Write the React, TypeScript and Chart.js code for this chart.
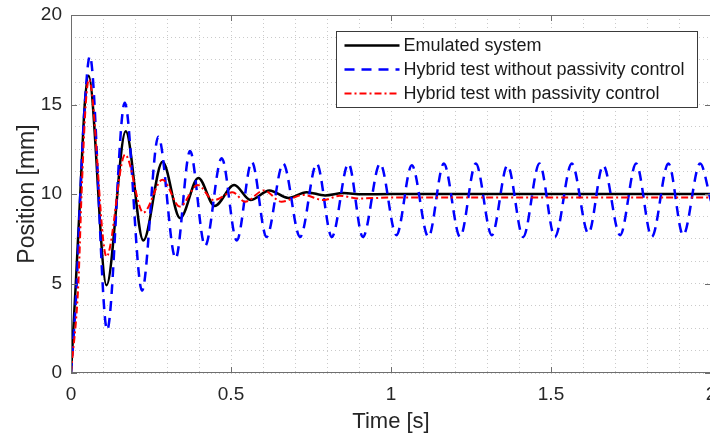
import React, { useEffect, useRef } from 'react';
import { Chart, registerables } from 'chart.js';

Chart.register(...registerables);

// ---- Data ----
const seriesLabels = [
  'Emulated system',
  'Hybrid test without passivity control',
  'Hybrid test with passivity control',
];

// Emulated system (black solid)
const emulatedTime = [0, 0.015, 0.029, 0.043, 0.055, 0.111, 0.171, 0.226, 0.286, 0.341, 0.398, 0.449, 0.51, 0.561, 0.62, 0.679, 0.736, 0.794, 0.851, 0.91, 1.0, 1.5, 2.0];
const emulatedPos = [0, 5, 10, 15, 16.6, 4.9, 13.5, 7.4, 11.8, 8.65, 10.9, 9.33, 10.5, 9.66, 10.2, 9.78, 10.1, 9.92, 10.05, 9.98, 10.0, 10.0, 10.0];

// Hybrid test without passivity control (blue dashed)
const noPassTime = [0, 0.018, 0.029, 0.043, 0.059, 0.113, 0.168, 0.222, 0.273, 0.327, 0.372, 0.419, 0.471, 0.518, 0.565, 0.611, 0.663, 0.716, 0.768, 0.815, 0.867, 0.912, 0.966, 1.017, 1.065, 1.117, 1.165, 1.216, 1.265, 1.315, 1.364, 1.413, 1.464, 1.512, 1.565, 1.617, 1.663, 1.716, 1.766, 1.815, 1.867, 1.913, 1.966, 2.0];
const noPassPos = [0, 5, 10, 15, 17.7, 2.4, 15.1, 4.6, 13.2, 6.4, 12.4, 7.1, 12.0, 7.4, 11.8, 7.6, 11.7, 7.6, 11.7, 7.6, 11.7, 7.6, 11.7, 7.7, 11.6, 7.6, 11.7, 7.6, 11.7, 7.7, 11.6, 7.6, 11.7, 7.6, 11.7, 7.8, 11.6, 7.7, 11.7, 7.6, 11.7, 7.7, 11.7, 9.6];

// Hybrid test with passivity control (red dash-dot)
const withPassTime = [0, 0.023, 0.033, 0.046, 0.056, 0.111, 0.169, 0.226, 0.286, 0.34, 0.396, 0.446, 0.505, 0.544, 0.603, 0.658, 0.726, 0.789, 0.84, 0.9, 1.0, 1.5, 2.0];
const withPassPos = [0, 5, 10, 15, 16.4, 6.5, 12.2, 8.96, 10.8, 9.3, 10.5, 9.66, 10.1, 9.57, 10.2, 9.57, 9.95, 9.66, 9.9, 9.75, 9.8, 9.8, 9.8];

const xMajor = [0, 0.5, 1, 1.5, 2];
const xTickLabels = ['0', '0.5', '1', '1.5', '2'];
const yMajor = [0, 5, 10, 15, 20];
const yTickLabels = ['0', '5', '10', '15', '20'];

const FONT = "'Liberation Sans', Arial, Helvetica, sans-serif";
const seriesColors = ['#000000', '#0000ff', '#ff0000'];
const seriesDash: number[][] = [[], [10, 7], [7, 3, 2, 3]];
const seriesWidth = [2.5, 2.5, 2];

const toPoints = (t: number[], y: number[]) => t.map((x, i) => ({ x, y: y[i] }));

const labelFor = (v: number, majors: number[], labels: string[]) => {
  for (let i = 0; i < majors.length; i++) {
    if (Math.abs(v - majors[i]) < 1e-6) return labels[i];
  }
  return '';
};

const framePlugin = {
  id: 'matlabFrame',
  afterDraw(chart: any) {
    const { ctx, chartArea: a, scales } = chart;
    ctx.save();
    // axes box
    ctx.strokeStyle = '#6e6e6e';
    ctx.lineWidth = 1;
    ctx.setLineDash([]);
    ctx.strokeRect(a.left + 0.5, a.top + 0.5, a.right - a.left - 1, a.bottom - a.top - 1);
    // inward tick marks
    ctx.beginPath();
    for (const v of xMajor) {
      const x = Math.round(scales.x.getPixelForValue(v)) + 0.5;
      ctx.moveTo(x, a.bottom);
      ctx.lineTo(x, a.bottom - 6);
      ctx.moveTo(x, a.top);
      ctx.lineTo(x, a.top + 6);
    }
    for (const v of yMajor) {
      const y = Math.round(scales.y.getPixelForValue(v)) + 0.5;
      ctx.moveTo(a.left, y);
      ctx.lineTo(a.left + 6, y);
      ctx.moveTo(a.right, y);
      ctx.lineTo(a.right - 6, y);
    }
    ctx.stroke();

    // legend box (MATLAB style, inside the axes, north-east)
    const bx = a.right - 374.5;
    const by = a.top + 16.5;
    const bw = 361;
    const bh = 76;
    ctx.fillStyle = '#ffffff';
    ctx.fillRect(bx, by, bw, bh);
    ctx.strokeStyle = '#3a3a3a';
    ctx.lineWidth = 1;
    ctx.strokeRect(bx, by, bw, bh);
    ctx.font = `18px ${FONT}`;
    ctx.textBaseline = 'middle';
    ctx.textAlign = 'left';
    chart.data.datasets.forEach((ds: any, i: number) => {
      const y = by + [14, 38, 62][i];
      ctx.beginPath();
      ctx.strokeStyle = seriesColors[i];
      ctx.lineWidth = seriesWidth[i];
      ctx.setLineDash(seriesDash[i]);
      ctx.moveTo(bx + 8, y);
      ctx.lineTo(bx + 63, y);
      ctx.stroke();
      ctx.setLineDash([]);
      ctx.fillStyle = '#1a1a1a';
      ctx.fillText(ds.label, bx + 67, y + 1);
    });
    ctx.restore();
  },
};

export default function App() {
  const canvasRef = useRef<HTMLCanvasElement | null>(null);

  useEffect(() => {
    const canvas = canvasRef.current;
    if (!canvas) return;
    const datasets = [
      { t: emulatedTime, y: emulatedPos },
      { t: noPassTime, y: noPassPos },
      { t: withPassTime, y: withPassPos },
    ].map((s, i) => ({
      label: seriesLabels[i],
      data: toPoints(s.t, s.y),
      borderColor: seriesColors[i],
      backgroundColor: seriesColors[i],
      borderWidth: seriesWidth[i],
      borderDash: seriesDash[i],
      pointRadius: 0,
      fill: false,
      cubicInterpolationMode: 'monotone' as const,
      order: [2, 1, 0][i],
    }));

    const chart = new Chart(canvas, {
      type: 'line',
      data: { datasets },
      options: {
        responsive: false,
        animation: false,
        events: [],
        layout: { padding: { top: 15, right: 19, bottom: 0, left: 0 } },
        plugins: {
          legend: { display: false },
          tooltip: { enabled: false },
          title: { display: false },
        },
        scales: {
          x: {
            type: 'linear',
            min: 0,
            max: 2,
            afterFit: (s: any) => {
              s.height = 63;
              s.paddingLeft = 0;
              s.paddingRight = 0;
            },
            ticks: {
              stepSize: 0.1,
              autoSkip: false,
              maxRotation: 0,
              padding: 10,
              color: '#262626',
              font: { family: FONT, size: 19 },
              callback: (v: any) => labelFor(Number(v), xMajor, xTickLabels),
            },
            grid: { color: '#cacaca', lineWidth: 1, drawTicks: false },
            border: { display: false, dash: [1, 3] },
            title: {
              display: true,
              text: 'Time [s]',
              color: '#262626',
              font: { family: FONT, size: 22 },
              padding: { top: 0, bottom: 1 },
            },
          },
          y: {
            type: 'linear',
            min: 0,
            max: 20,
            afterFit: (s: any) => {
              s.width = 71;
              s.paddingTop = 0;
              s.paddingBottom = 0;
            },
            ticks: {
              stepSize: 1.25,
              autoSkip: false,
              padding: 9,
              color: '#262626',
              font: { family: FONT, size: 19 },
              callback: (v: any) => labelFor(Number(v), yMajor, yTickLabels),
            },
            grid: { color: '#cacaca', lineWidth: 1, drawTicks: false },
            border: { display: false, dash: [1, 3] },
            title: {
              display: true,
              text: 'Position [mm]',
              color: '#262626',
              font: { family: FONT, size: 23 },
              padding: { top: 14, bottom: 0 },
            },
          },
        },
      },
      plugins: [framePlugin],
    });
    return () => chart.destroy();
  }, []);

  return (
    <div
      style={{
        position: 'fixed',
        left: 0,
        top: 0,
        width: 710,
        height: 436,
        overflow: 'hidden',
        background: '#ffffff',
      }}
    >
      <canvas
        ref={canvasRef}
        width={730}
        height={436}
        style={{ display: 'block', width: 730, height: 436 }}
      />
    </div>
  );
}
